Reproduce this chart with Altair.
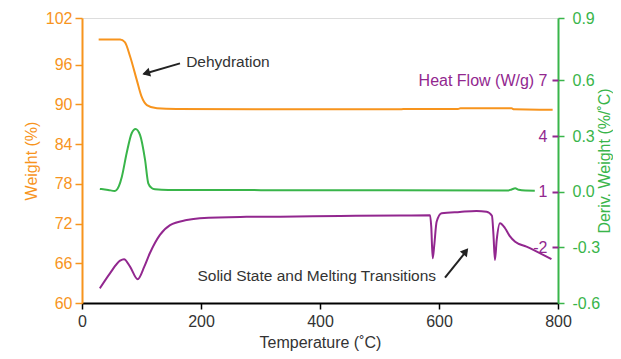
import altair as alt
import pandas as pd

# ---------------- data ----------------
# Weight (%) curve (TGA)
w_temp = [28, 64, 72, 81, 92, 100, 109, 126, 159, 300, 534, 540, 632, 636, 722, 726, 791]
w_val = [99.8, 99.8, 99.4, 97.2, 93.7, 91.2, 89.9, 89.4, 89.3, 89.25, 89.25, 89.3, 89.3, 89.4, 89.4, 89.25, 89.2]

# Derivative weight (%/°C)
d_temp = [30, 44, 55, 62, 67, 75, 83.5, 90, 97.5, 106, 111.4, 117, 122.7, 145, 400, 715, 722, 728, 734, 745, 761]
d_val = [0.015, 0.009, 0.004, 0.03, 0.081, 0.207, 0.315, 0.338, 0.306, 0.171, 0.045, 0.02, 0.013, 0.009,
         0.008, 0.006, 0.012, 0.018, 0.01, 0.006, 0.005]

# Heat flow (W/g)
h_temp = [30, 47, 64, 70.6, 80.7, 93.6, 104.7, 114, 131, 148, 176, 198, 266, 333, 434, 534, 585, 587,
          589.4, 592, 596, 604.5, 635, 663, 680, 689, 691.5, 694, 697, 702.5, 711, 719, 728, 747, 789]
h_val = [-4.21, -3.40, -2.72, -2.64, -3.04, -3.72, -3.04, -2.32, -1.33, -0.80, -0.53, -0.43, -0.36, -0.35,
         -0.31, -0.29, -0.27, -0.9, -2.59, -1.9, -0.62, -0.16, -0.09, -0.04, -0.08, -0.3, -1.3, -2.68,
         -1.60, -0.70, -0.97, -1.4, -1.70, -1.96, -2.64]

# tick values
x_ticks = [0, 200, 400, 600, 800]
w_ticks = [60, 66, 72, 78, 84, 90, 96, 103.05]
d_ticks = [-0.6, -0.3, 0.0, 0.3, 0.6, 0.936]
h_ticks = [-2, 1, 4, 7]

# annotations (in temperature / weight units)
ann_text = ["Dehydration", "Solid State and Melting Transitions"]
ann_x = [175, 194]
ann_y = [96.36, 64.08]
arrow_x1 = [164.7, 610.1]
arrow_y1 = [96.2, 63.82]
arrow_x2 = [103.5, 646.5]
arrow_y2 = [94.6, 67.9]
head_x = [107.8, 645.0]
head_y = [94.71, 67.8]
head_angle = [253.7, 38.4]

# ---------------- styling ----------------
ORANGE = "#F7941D"
GREEN = "#39B54A"
PURPLE = "#92278F"
DARK = "#333333"
FONT = "Liberation Sans"

W_DOM = [60, 103.05]
D_DOM = [-0.6, 0.936]
H_DOM = [-5, 10.36]

W, H = 476, 285

df_w = pd.DataFrame({"T": w_temp, "v": w_val})
df_d = pd.DataFrame({"T": d_temp, "v": d_val})
df_h = pd.DataFrame({"T": h_temp, "v": h_val})
df_ann = pd.DataFrame({"T": ann_x, "v": ann_y, "txt": ann_text})
df_arr = pd.DataFrame({"x1": arrow_x1, "y1": arrow_y1, "x2": arrow_x2, "y2": arrow_y2})
df_head = pd.DataFrame({"T": head_x, "v": head_y, "a": head_angle})

xenc = alt.X("T:Q", scale=alt.Scale(domain=[0, 800], nice=False),
             axis=alt.Axis(values=x_ticks, title="Temperature (˚C)", domainColor="black", domainWidth=2,
                           tickColor="black", tickWidth=1.5, tickSize=6, labelPadding=4, labelFlush=False,
                           labelColor=DARK, labelFontSize=16, labelFont=FONT, grid=False,
                           titleColor=DARK, titleFontSize=16, titleFont=FONT, titleFontWeight="normal",
                           titlePadding=5))

weight = alt.Chart(df_w).mark_line(color=ORANGE, strokeWidth=2, interpolate="monotone").encode(
    x=xenc,
    y=alt.Y("v:Q", scale=alt.Scale(domain=W_DOM, nice=False, zero=False),
            axis=alt.Axis(orient="left", values=w_ticks, title="Weight (%)", labelFlush=False,
                          labelExpr="datum.value > 100 ? '102' : datum.label",
                          domainColor=ORANGE, domainWidth=2, tickColor=ORANGE, tickWidth=1.5, tickSize=7,
                          labelColor=ORANGE, labelFontSize=16, labelFont=FONT, labelPadding=3, grid=False,
                          titleColor=ORANGE, titleFontSize=16, titleFont=FONT, titleFontWeight="normal",
                          titlePadding=6)),
)

deriv = alt.Chart(df_d).mark_line(color=GREEN, strokeWidth=2, interpolate="monotone").encode(
    x=alt.X("T:Q"),
    y=alt.Y("v:Q", scale=alt.Scale(domain=D_DOM, nice=False, zero=False),
            axis=alt.Axis(orient="right", values=d_ticks, title="Deriv. Weight (%/˚C)", labelFlush=False,
                          labelExpr="datum.value > 0.9 ? '0.9' : replace(format(datum.value, '.1f'), '−', '-')",
                          domainColor=GREEN, domainWidth=2, tickColor=GREEN, tickWidth=1.5, tickSize=6,
                          labelColor=GREEN, labelFontSize=16, labelFont=FONT, labelPadding=8, grid=False,
                          titleColor=GREEN, titleFontSize=16, titleFont=FONT, titleFontWeight="normal",
                          titleAngle=270, titleBaseline="top", titlePadding=-3)),
)

heat = alt.Chart(df_h).mark_line(color=PURPLE, strokeWidth=2, interpolate="monotone").encode(
    x=alt.X("T:Q"),
    y=alt.Y("v:Q", scale=alt.Scale(domain=H_DOM, nice=False, zero=False),
            axis=alt.Axis(orient="left", offset=-W, values=h_ticks, title=None, domain=False, labelFlush=False,
                          labelExpr="datum.value == 7 ? 'Heat Flow (W/g) 7' : replace(format(datum.value, 'd'), '−', '-')",
                          tickColor=PURPLE, tickWidth=2, tickSize=6,
                          labelColor=PURPLE, labelFontSize=16, labelFont=FONT, labelPadding=5, grid=False)),
)

ann_scale = alt.Scale(domain=W_DOM, nice=False, zero=False)

texts = alt.Chart(df_ann).mark_text(align="left", baseline="middle", font=FONT, fontSize=15.5,
                                    color=DARK).encode(
    x=alt.X("T:Q"),
    y=alt.Y("v:Q", scale=ann_scale, axis=None),
    text="txt:N",
)

arrows = alt.Chart(df_arr).mark_rule(color="#222222", strokeWidth=2).encode(
    x=alt.X("x1:Q"), x2="x2:Q",
    y=alt.Y("y1:Q", scale=ann_scale, axis=None), y2="y2:Q",
)

heads = alt.Chart(df_head).mark_point(shape="triangle-up", filled=True, color="#222222", size=80,
                                      opacity=1).encode(
    x=alt.X("T:Q"),
    y=alt.Y("v:Q", scale=ann_scale, axis=None),
    angle=alt.Angle("a:Q", scale=None),
)

chart = alt.layer(weight, deriv, heat, arrows, heads, texts).resolve_scale(y="independent").properties(
    width=W, height=H,
    autosize=alt.AutoSizeParams(type="none"),
    padding={"left": 74, "top": 10, "right": 55, "bottom": 48},
).configure_view(stroke="black", strokeWidth=1.5).configure(background="white")

chart.save("out.html", embed_options={"renderer": "svg", "actions": False})
